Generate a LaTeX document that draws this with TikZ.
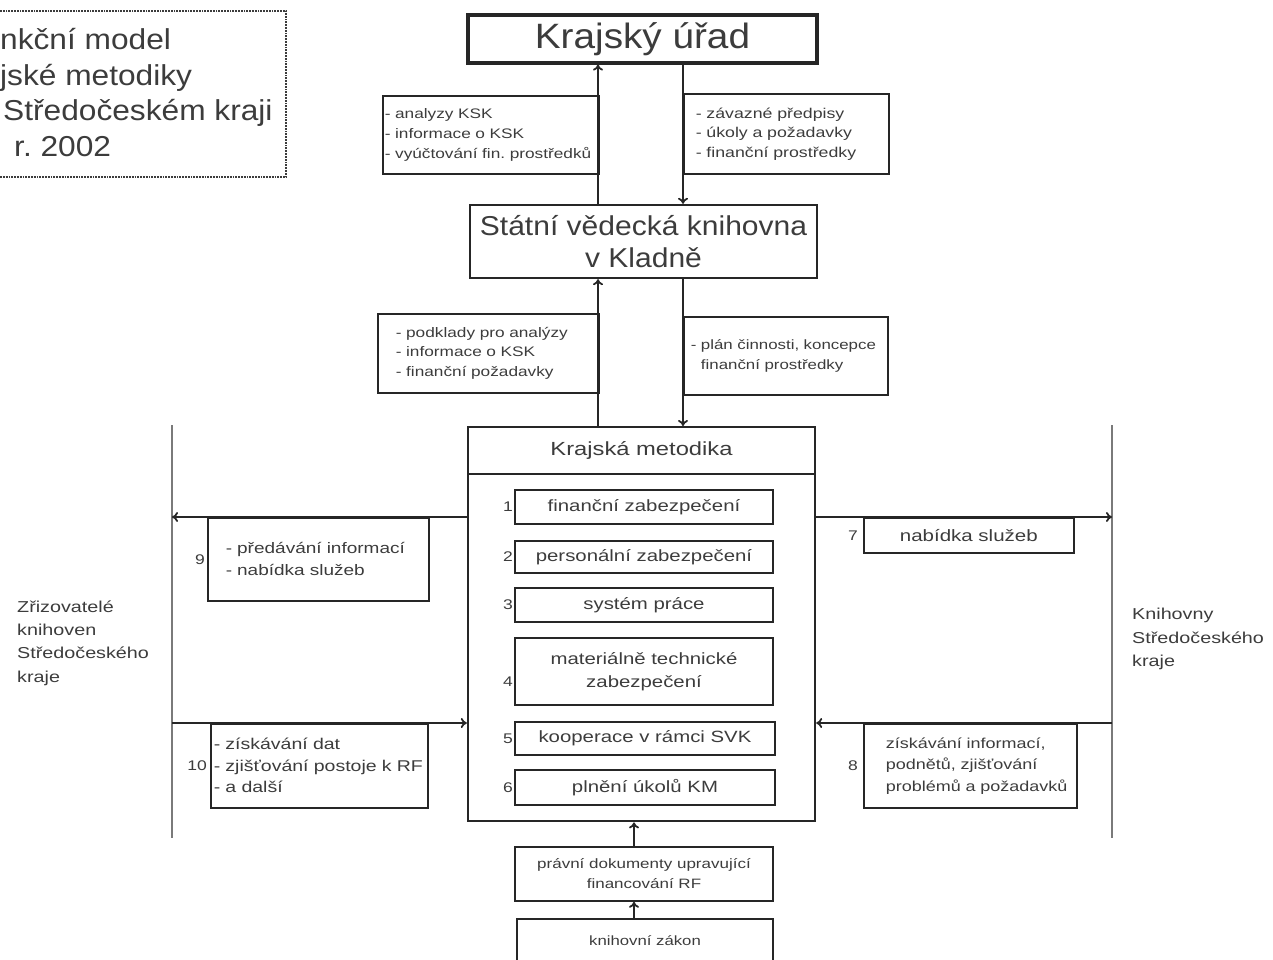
\documentclass[tikz,border=0pt]{standalone}
\usepackage{fontspec}
\setmainfont{Liberation Sans}[FakeStretch=1.1]
\newfontfamily\smallfont{Liberation Sans}[FakeStretch=1.25]
\usetikzlibrary{arrows.meta}
\definecolor{ink}{HTML}{262626}
\definecolor{txt}{HTML}{3C3C3C}
\definecolor{rule}{HTML}{7A7A7A}
\newcommand{\fs}[2]{\fontsize{#1}{#2}\selectfont}
\frenchspacing
\tikzset{
	note/.style={draw=ink, line width=1.6pt, text=txt, inner sep=0pt},
	infobox/.style={note, anchor=north west, align=left},
	pad/.style 2 args={text width=#1, minimum width=#1, execute at begin node={\leftskip=#2}},
	bigbox/.style={draw=ink, line width=3.2pt, text=txt, inner sep=0pt},
	unitbox/.style={draw=ink, line width=2.4pt, text=txt, inner sep=0pt, align=center},
	kmitem/.style={note, line width=1.8pt, align=center, minimum width=258pt, font=\smallfont\fs{16.3}{23}},
	numlab/.style={text=txt, inner sep=1pt, anchor=east, font=\smallfont\fs{14}{16}},
	titleline/.style={text=txt, inner sep=0pt, anchor=base west, font=\fs{28.8}{35}},
	side/.style={text=txt, inner sep=0pt, anchor=west, align=left, font=\smallfont\fs{15.8}{23.3}},
	flow/.style={draw=ink, line width=1.8pt, ->},
	sideline/.style={draw=rule, line width=1.2pt},
	>={To[length=6pt, width=10pt]}
}

\begin{document}
\begin{tikzpicture}[x=1pt, y=-1pt]

	\useasboundingbox (0,0) rectangle (1273,960);
	\clip (0,0) rectangle (1273,960);

	% title
	\node[draw=ink!90, line width=1.8pt, densely dotted, anchor=north east, minimum width=300pt, minimum height=166pt] (titlebox) at (287,10) {};
	\node[titleline] (title1) at (0,50) {nkční model};
	\node[titleline] (title2) at (0,86) {jské metodiky};
	\node[titleline] (title3) at (3,121) {Středočeském kraji};
	\node[titleline] (title4) at (14,157) {r. 2002};

	% --- top ---
	\node[bigbox, minimum width=349pt, minimum height=48pt, font=\fs{35.2}{40}] (ku) at (642.5,39) {Krajský úřad};
	\node[unitbox, minimum width=347pt, minimum height=73pt, font=\fs{27.3}{32}] (svk) at (643.5,241.5) {Státní vědecká knihovna\\v Kladně};

	\node[infobox, pad={216pt}{2pt}, minimum height=78pt, font=\smallfont\fs{13.8}{20}] (upinfo) at (382,95) {- analyzy KSK\\- informace o KSK\\- vyúčtování fin. prostředků};
	\node[infobox, pad={205pt}{12pt}, minimum height=80pt, font=\smallfont\fs{14.2}{19.5}] (downinfo) at (683,93) {- závazné předpisy\\- úkoly a požadavky\\- finanční prostředky};

	\node[infobox, pad={221pt}{18pt}, minimum height=79pt, font=\smallfont\fs{13.8}{19.5}] (upreq) at (377,313) {- podklady pro analýzy\\- informace o KSK\\- finanční požadavky};
	\node[infobox, pad={204pt}{7pt}, minimum height=78pt, font=\smallfont\fs{13.5}{20}] (downplan) at (683,316) {- plán činnosti, koncepce\\\hphantom{- }finanční prostředky};

	\coordinate (upx) at (598,0);
	\coordinate (dnx) at (683,0);

	\draw[flow] (svk.north -| upx) -- (ku.south -| upx);
	\draw[flow] (ku.south -| dnx) -- (svk.north -| dnx);

	% --- krajska metodika ---
	\node[unitbox, minimum width=347pt, minimum height=394pt, anchor=north] (km) at (641.5,426) {};
	\node[unitbox, minimum width=347pt, minimum height=47pt, anchor=north, font=\smallfont\fs{19}{22}] (kmhead) at (km.north) {Krajská metodika};

	\draw[flow] (km.north -| upx) -- (svk.south -| upx);
	\draw[flow] (svk.south -| dnx) -- (km.north -| dnx);

	\node[kmitem, minimum height=34pt] (it1) at (644,507) {finanční zabezpečení};
	\node[kmitem, minimum height=32pt] (it2) at (644,557) {personální zabezpečení};
	\node[kmitem, minimum height=34pt] (it3) at (644,605) {systém práce};
	\node[kmitem, minimum height=67pt] (it4) at (644,671.5) {materiálně technické\\zabezpečení};
	\node[kmitem, minimum height=33pt, minimum width=260pt] (it5) at (645,738.5) {kooperace v rámci SVK};
	\node[kmitem, minimum height=35pt, minimum width=260pt] (it6) at (645,787.5) {plnění úkolů KM};

	\node[numlab] (n1) at (it1.west) {1};
	\node[numlab] (n2) at (it2.west) {2};
	\node[numlab] (n3) at (it3.west) {3};
	\node[numlab, yshift=-10pt] (n4) at (it4.west) {4};
	\node[numlab] (n5) at (it5.west) {5};
	\node[numlab] (n6) at (it6.west) {6};

	% --- sides ---
	\coordinate (ltop) at (172,425);
	\coordinate (lbot) at (172,838);
	\coordinate (l9) at (172,517);
	\coordinate (l10) at (172,723);
	\coordinate (rtop) at (1112,425);
	\coordinate (rbot) at (1112,838);
	\coordinate (r7) at (1112,517);
	\coordinate (r8) at (1112,723);

	\draw[sideline] (ltop) -- (lbot);
	\draw[sideline] (rtop) -- (rbot);

	\node[infobox, pad={221pt}{18pt}, minimum height=83pt, font=\smallfont\fs{15.2}{22}] (box9) at (207,517) {- předávání informací\\- nabídka služeb};
	\node[infobox, pad={217pt}{3pt}, minimum height=84pt, font=\smallfont\fs{15.6}{21.5}] (box10) at (210,723) {- získávání dat\\- zjišťování postoje k RF\\- a další};
	\node[note, anchor=north west, minimum width=210pt, minimum height=35pt, font=\smallfont\fs{16.4}{20}] (box7) at (863,517) {nabídka služeb};
	\node[infobox, pad={213pt}{22pt}, minimum height=84pt, font=\smallfont\fs{14.4}{21.5}] (box8) at (863,723) {získávání informací,\\podnětů, zjišťování\\problémů a požadavků};

	\node[numlab, inner sep=2pt] (n9) at (box9.west) {9};
	\node[numlab, inner sep=3pt] (n10) at (box10.west) {10};
	\node[numlab, inner sep=5pt] (n7) at (box7.west) {7};
	\node[numlab, inner sep=5pt] (n8) at (box8.west) {8};

	\draw[flow] (l9 -| km.west) -- (l9);
	\draw[flow] (l10) -- (l10 -| km.west);
	\draw[flow] (r7 -| km.east) -- (r7);
	\draw[flow] (r8) -- (r8 -| km.east);

	\node[side] (zriz) at (17,643) {Zřizovatelé\\knihoven\\Středočeského\\kraje};
	\node[side] (knih) at (1132,639) {Knihovny\\Středočeského\\kraje};

	% --- bottom ---
	\node[note, align=center, minimum width=258pt, minimum height=54pt, font=\smallfont\fs{13.6}{20}] (pravni) at (644,874) {právní dokumenty upravující\\financování RF};
	\node[note, minimum width=256pt, minimum height=44pt, font=\smallfont\fs{13.4}{15}] (zakon) at (645,941) {knihovní zákon};

	\coordinate (midx) at (634,0);
	\draw[flow] (pravni.north -| midx) -- (km.south -| midx);
	\draw[flow] (zakon.north -| midx) -- (pravni.south -| midx);

\end{tikzpicture}
\end{document}
